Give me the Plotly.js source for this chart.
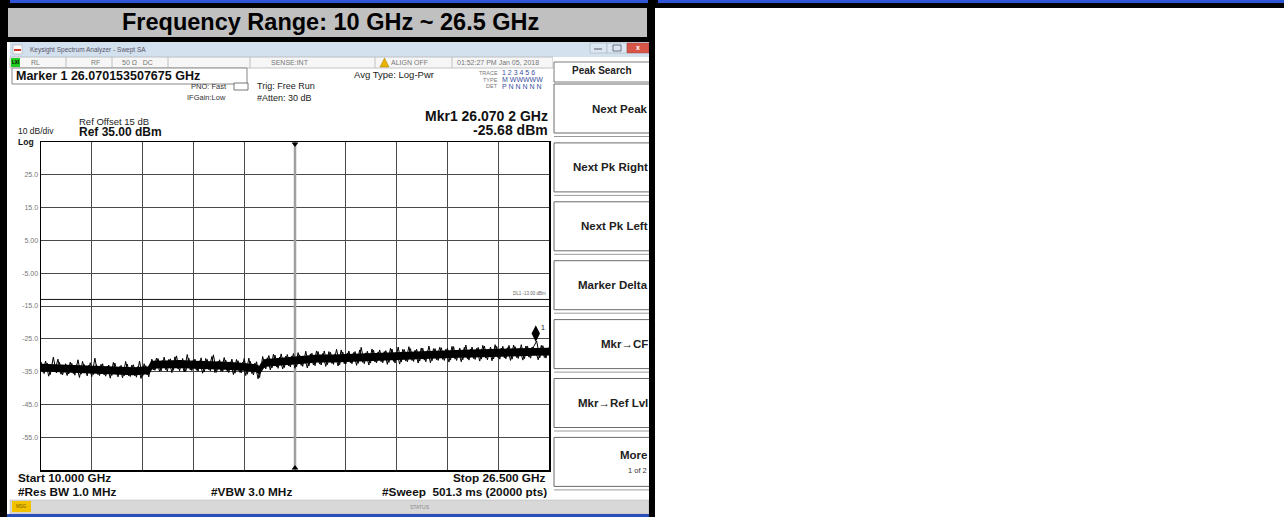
<!DOCTYPE html>
<html><head><meta charset="utf-8">
<script src="https://cdn.plot.ly/plotly-3.0.1.min.js"></script>
<style>html,body{margin:0;padding:0;background:#fff;overflow:hidden}#chart{width:1284px;height:517px}</style>
</head><body><div id="chart"></div>
<script>
// ---------------- data ----------------
const chartTitle = "Frequency Range: 10 GHz ~ 26.5 GHz";
const startGHz = 10.0;
const stopGHz = 26.5;
const refLevelDbm = 35.0;
const bottomLevelDbm = -65.0;
const displayLineDbm = -13.0;
const markerFreqGHz = 26.0702;
const markerLevelDbm = -25.68;

const yTickVals = [25, 15, 5, -5, -15, -25, -35, -45, -55];
const yTickText = ["25.0", "15.0", "5.00", "-5.00", "-15.0", "-25.0", "-35.0", "-45.0", "-55.0"];

const sweepFreqGHz = [
10.0,10.1,10.2,10.3,10.4,10.5,10.6,10.7,10.8,10.9,
11.0,11.1,11.2,11.3,11.4,11.5,11.6,11.7,11.8,11.9,
12.0,12.1,12.2,12.3,12.4,12.5,12.6,12.7,12.8,12.9,
13.0,13.1,13.2,13.3,13.4,13.5,13.6,13.7,13.8,13.9,
14.0,14.1,14.2,14.3,14.4,14.5,14.6,14.7,14.8,14.9,
15.0,15.1,15.2,15.3,15.4,15.5,15.6,15.7,15.8,15.9,
16.0,16.1,16.2,16.3,16.4,16.5,16.6,16.7,16.8,16.9,
17.0,17.1,17.2,17.3,17.4,17.5,17.6,17.7,17.8,17.9,
18.0,18.1,18.2,18.3,18.4,18.5,18.6,18.7,18.8,18.9,
19.0,19.1,19.2,19.3,19.4,19.5,19.6,19.7,19.8,19.9,
20.0,20.1,20.2,20.3,20.4,20.5,20.6,20.7,20.8,20.9,
21.0,21.1,21.2,21.3,21.4,21.5,21.6,21.7,21.8,21.9,
22.0,22.1,22.2,22.3,22.4,22.5,22.6,22.7,22.8,22.9,
23.0,23.1,23.2,23.3,23.4,23.5,23.6,23.7,23.8,23.9,
24.0,24.1,24.2,24.3,24.4,24.5,24.6,24.7,24.8,24.9,
25.0,25.1,25.2,25.3,25.4,25.5,25.6,25.7,25.8,25.9,
26.0,26.1,26.2,26.3,26.4,26.5];
const sweepLevelDbm = [
-32.0,-35.6,-32.4,-35.9,-30.6,-35.4,-32.2,-36.0,-32.6,-35.7,
-32.5,-36.1,-31.4,-35.8,-32.8,-36.3,-32.3,-35.9,-32.9,-36.2,
-32.6,-36.4,-33.0,-36.2,-32.4,-36.6,-33.1,-36.3,-32.7,-36.5,
-32.9,-36.7,-31.8,-36.4,-33.2,-36.6,-31.2,-34.6,-31.0,-34.8,
-30.6,-34.9,-31.1,-34.6,-30.2,-34.8,-31.0,-35.0,-30.9,-34.7,
-31.2,-34.9,-30.8,-35.1,-31.3,-34.8,-29.9,-35.2,-31.4,-35.0,
-31.5,-35.3,-31.2,-35.5,-31.7,-35.4,-31.0,-35.8,-31.9,-36.0,
-32.0,-36.8,-30.4,-34.2,-30.1,-33.9,-30.0,-34.0,-29.6,-33.8,
-29.8,-33.6,-29.5,-33.5,-29.9,-33.4,-28.8,-33.3,-29.4,-33.2,
-28.9,-33.0,-28.7,-32.9,-29.1,-32.8,-28.2,-32.9,-29.0,-32.7,
-28.7,-32.6,-28.9,-32.5,-27.6,-32.6,-28.8,-32.4,-28.5,-32.3,
-28.4,-32.3,-28.6,-32.2,-28.1,-32.4,-27.5,-32.1,-28.3,-32.0,
-28.0,-31.9,-28.2,-31.8,-27.9,-32.0,-27.2,-31.7,-28.0,-31.6,
-27.7,-31.6,-27.9,-31.5,-27.4,-31.6,-27.8,-31.4,-26.9,-31.5,
-27.5,-31.3,-27.6,-31.2,-27.2,-31.4,-27.5,-31.1,-27.3,-31.2,
-27.3,-31.1,-27.0,-31.2,-27.4,-31.0,-26.8,-31.1,-27.2,-30.9,
-27.4,-25.7,-30.8,-27.1,-30.9,-27.6];

const sweepFreqGHzB = [
10.05,10.15,10.25,10.35,10.45,10.55,10.65,10.75,10.85,10.95,
11.05,11.15,11.25,11.35,11.45,11.55,11.65,11.75,11.85,11.95,
12.05,12.15,12.25,12.35,12.45,12.55,12.65,12.75,12.85,12.95,
13.05,13.15,13.25,13.35,13.45,13.55,13.65,13.75,13.85,13.95,
14.05,14.15,14.25,14.35,14.45,14.55,14.65,14.75,14.85,14.95,
15.05,15.15,15.25,15.35,15.45,15.55,15.65,15.75,15.85,15.95,
16.05,16.15,16.25,16.35,16.45,16.55,16.65,16.75,16.85,16.95,
17.05,17.15,17.25,17.35,17.45,17.55,17.65,17.75,17.85,17.95,
18.05,18.15,18.25,18.35,18.45,18.55,18.65,18.75,18.85,18.95,
19.05,19.15,19.25,19.35,19.45,19.55,19.65,19.75,19.85,19.95,
20.05,20.15,20.25,20.35,20.45,20.55,20.65,20.75,20.85,20.95,
21.05,21.15,21.25,21.35,21.45,21.55,21.65,21.75,21.85,21.95,
22.05,22.15,22.25,22.35,22.45,22.55,22.65,22.75,22.85,22.95,
23.05,23.15,23.25,23.35,23.45,23.55,23.65,23.75,23.85,23.95,
24.05,24.15,24.25,24.35,24.45,24.55,24.65,24.75,24.85,24.95,
25.05,25.15,25.25,25.35,25.45,25.55,25.65,25.75,25.85,25.95,
26.05,26.15,26.25,26.35,26.45];
const sweepLevelDbmB = [
-35.2,-31.8,-36.4,-33.0,-35.0,-31.2,-35.8,-33.4,-36.2,-32.1,
-35.6,-32.9,-36.8,-31.9,-35.4,-33.1,-36.5,-30.9,-35.9,-32.8,
-36.0,-33.3,-37.0,-32.2,-35.8,-33.5,-36.9,-31.9,-36.3,-33.0,
-36.3,-33.4,-37.1,-32.6,-36.0,-33.2,-34.5,-30.9,-34.9,-31.6,
-34.4,-31.3,-35.3,-30.5,-34.2,-31.6,-35.1,-29.8,-34.5,-31.4,
-34.6,-31.7,-35.5,-31.0,-34.4,-30.4,-35.3,-31.8,-34.9,-30.7,
-35.0,-32.0,-35.9,-31.3,-35.2,-32.2,-36.2,-30.9,-35.6,-32.4,
-37.2,-32.6,-33.9,-30.8,-34.5,-29.7,-33.6,-30.6,-34.2,-30.3,
-33.3,-30.2,-34.0,-29.2,-33.1,-30.4,-33.9,-29.6,-33.0,-28.7,
-32.7,-29.5,-33.4,-28.9,-32.5,-29.6,-33.3,-28.4,-32.6,-29.3,
-32.3,-29.2,-33.1,-28.4,-32.2,-29.3,-33.0,-28.1,-32.1,-29.0,
-32.0,-28.9,-32.8,-27.9,-31.9,-29.0,-32.7,-28.2,-31.8,-27.4,
-31.6,-28.5,-32.4,-27.8,-31.5,-28.6,-32.3,-28.0,-31.4,-27.6,
-31.3,-28.2,-32.1,-27.3,-31.2,-28.4,-32.0,-27.6,-31.1,-28.1,
-31.0,-27.9,-31.8,-27.0,-30.9,-28.1,-31.7,-26.8,-30.8,-27.8,
-30.8,-27.7,-31.6,-26.9,-30.7,-27.9,-31.5,-27.2,-30.6,-27.5,
-28.3,-31.4,-27.0,-30.7,-28.2];

// dense core of the noise band
const bandFreqGHz = [10.0,10.5,11.0,11.5,12.0,12.5,13.0,13.5,13.6,14.0,14.5,15.0,15.5,16.0,16.5,17.0,17.1,17.25,17.5,18.0,18.5,19.0,19.5,20.0,20.5,21.0,21.5,22.0,22.5,23.0,23.5,24.0,24.5,25.0,25.5,26.0,26.5];
const bandHighDbm = [-32.9,-33.1,-33.3,-33.4,-33.6,-33.9,-34.0,-33.7,-32.0,-31.9,-31.8,-32.0,-32.1,-32.3,-32.6,-33.1,-33.6,-31.5,-31.3,-30.9,-30.6,-30.1,-30.1,-29.9,-29.7,-29.6,-29.4,-29.1,-28.9,-28.8,-28.7,-28.6,-28.4,-28.3,-28.2,-28.1,-28.0];
const bandLowDbm  = [-34.7,-34.9,-35.1,-35.2,-35.4,-35.7,-35.8,-35.5,-33.8,-33.7,-33.6,-33.8,-33.9,-34.1,-34.4,-34.9,-35.4,-33.3,-33.1,-32.7,-32.4,-31.9,-31.9,-31.7,-31.5,-31.4,-31.2,-30.9,-30.7,-30.6,-30.5,-30.4,-30.2,-30.1,-30.0,-29.9,-29.8];

const softkeyLabels = ["Next Peak", "Next Pk Right", "Next Pk Left", "Marker Delta", "Mkr\u2192CF", "Mkr\u2192Ref Lvl", "More"];

// ---------------- geometry helpers ----------------
const L = 41, T = 142, W = 508, H = 328;
const X = px => (px - L) / W;
const Y = py => (T + H - py) / H;
const F = "Liberation Sans, Arial, sans-serif";
const shapes = [];
const ann = [];
function rect(x0, y0, x1, y1, fill, line, lw, layer) {
  shapes.push({type: 'rect', xref: 'paper', yref: 'paper', x0: X(x0), x1: X(x1), y0: Y(y1), y1: Y(y0),
    fillcolor: fill, line: {color: line || fill, width: lw || 0}, layer: layer || 'below'});
}
function hline(x0, x1, y, color, w, layer) {
  shapes.push({type: 'line', xref: 'paper', yref: 'paper', x0: X(x0), x1: X(x1), y0: Y(y), y1: Y(y),
    line: {color: color, width: w || 1}, layer: layer || 'below'});
}
function vline(x, y0, y1, color, w, layer) {
  shapes.push({type: 'line', xref: 'paper', yref: 'paper', x0: X(x), x1: X(x), y0: Y(y0), y1: Y(y1),
    line: {color: color, width: w || 1}, layer: layer || 'below'});
}
function txt(x, y, text, size, color, anchor, family) {
  ann.push({xref: 'paper', yref: 'paper', x: X(x), y: Y(y), text: text, showarrow: false,
    xanchor: anchor || 'left', yanchor: 'middle', borderpad: 0,
    font: {family: family || F, size: size, color: color || '#111'}});
}

// ---------------- frame ----------------
rect(0, 0, 1284, 8, '#000000');
rect(0, 0, 655, 517, '#000000');
rect(10, 0, 648, 3, '#2f56d6');
rect(658, 0, 1284, 3, '#2f56d6');
rect(8, 8, 647, 37, '#c0c0c0');
txt(330.5, 22, '<b>' + chartTitle + '</b>', 23.5, '#000', 'center');

// screenshot
rect(7, 42, 649, 516, '#ffffff');
rect(10, 42, 649, 57, '#d3e0ee');
rect(13, 45, 22, 54, '#ffffff', '#999', 0.5);
rect(14, 49, 21, 51, '#d23a2a');
txt(29, 49.5, 'Keysight Spectrum Analyzer - Swept SA', 6.5, '#556');
rect(590, 43, 607, 53, '#dbe6f2', '#9aa', 0.5);
rect(607, 43, 627, 53, '#dbe6f2', '#9aa', 0.5);
rect(627, 43, 649, 53, '#d65547', '#944', 0.5);
hline(594, 602, 49, '#556', 1);
rect(613, 45, 621, 51, 'rgba(0,0,0,0)', '#556', 0.8);
txt(638, 48, '<b>x</b>', 7, '#fff', 'center');

// status row
rect(10, 57, 553, 68, '#f6f6f6', '#b5b5b5', 0.8);
[66, 112, 168, 250, 375, 452].forEach(x => vline(x, 57, 68, '#b5b5b5', 0.8));
rect(11, 58, 20, 67, '#22cc22');
txt(15.5, 62.5, '<b>LXI</b>', 4.5, '#000', 'center');
txt(30, 62.5, 'RL', 7, '#777');
txt(90, 62.5, 'RF', 7, '#777');
txt(121, 62.5, '50 \u03A9   DC', 7, '#777');
txt(270, 62.5, 'SENSE:INT', 7, '#777');
shapes.push({type: 'path', xref: 'paper', yref: 'paper', layer: 'below',
  path: 'M ' + X(380) + ' ' + Y(67) + ' L ' + X(389) + ' ' + Y(67) + ' L ' + X(384.5) + ' ' + Y(58) + ' Z',
  fillcolor: '#e8b400', line: {color: '#a07800', width: 0.5}});
txt(390, 62.5, 'ALIGN OFF', 7, '#777');
txt(456, 62.5, '01:52:27 PM Jan 05, 2018', 7, '#777');

// marker readout box
rect(12, 68, 247, 84, '#ffffff', '#888', 1);
txt(15, 76, '<b>Marker 1 26.070153507675 GHz</b>', 12.5, '#111');
txt(190, 86, 'PNO: Fast', 7.5, '#333');
rect(234, 83, 248, 90, '#ffffff', '#555', 0.8);
txt(186, 97.5, 'IFGain:Low', 7.5, '#333');
txt(256, 86, 'Trig: Free Run', 9, '#222');
txt(256, 98, '#Atten: 30 dB', 9, '#222');
txt(353, 74.5, 'Avg Type: Log-Pwr', 9.5, '#222');
txt(499, 73, 'TRACE', 5.5, '#777', 'right');
txt(501, 73, '1 2 3 4 5 6', 7, '#3b4fa0');
txt(499, 79.5, 'TYPE', 5.5, '#777', 'right');
txt(501, 79.5, 'M WWWWW', 7, '#3b4fa0');
txt(499, 86, 'DET', 5.5, '#777', 'right');
txt(501, 86, 'P N N N N N', 7, '#3b4fa0');

txt(78, 122, 'Ref Offset 15 dB', 9.5, '#222');
txt(17, 131, '10 dB/div', 8.5, '#222');
txt(78, 132, '<b>Ref 35.00 dBm</b>', 12, '#111');
txt(17, 142.5, '<b>Log</b>', 8.5, '#111');
txt(549, 115.5, '<b>Mkr1 26.070 2 GHz</b>', 14, '#111', 'right');
txt(549, 130.5, '<b>-25.68 dBm</b>', 14, '#111', 'right');

txt(17, 478, '<b>Start 10.000 GHz</b>', 11.8, '#111');
txt(17, 492, '<b>#Res BW 1.0 MHz</b>', 11.8, '#111');
txt(210, 492, '<b>#VBW 3.0 MHz</b>', 11.8, '#111');
txt(547, 478, '<b>Stop 26.500 GHz</b>', 11.8, '#111', 'right');
txt(548, 492, '<b>#Sweep  501.3 ms (20000 pts)</b>', 11.8, '#111', 'right');

// DL1 label
txt(547, 293, 'DL1 -13.00 dBm', 4.5, '#666', 'right');
txt(540, 327, '1', 7, '#111', 'left');

// softkey panel
rect(553, 57, 649, 500, '#ffffff');
rect(554, 62, 650, 82, '#ffffff', '#7a7a7a', 1);
txt(602, 70.5, '<b>Peak Search</b>', 10, '#222', 'center');
softkeyLabels.forEach((lab, k) => {
  const top = 84 + k * 58.9;
  rect(554, top, 651, top + 49, '#ffffff', '#6a6a6a', 1);
  hline(554, 651, top + 52.5, '#9a9a9a', 1);
  if (k === softkeyLabels.length - 1) {
    txt(648, top + 18, '<b>' + lab + '</b>', 11.5, '#222', 'right');
    txt(648, top + 33, '1 of 2', 7.5, '#333', 'right');
  } else {
    txt(649, top + 24.5, '<b>' + lab + '</b>', 11.5, '#222', 'right');
  }
});

// status bar
rect(10, 500, 649, 514, '#d8d8d8', '#b0b0b0', 0.5);
rect(12, 501, 31, 512, '#f2c200');
txt(21.5, 506.5, 'MSG', 4.5, '#7a5a00', 'center');
txt(420, 507, 'STATUS', 5, '#888', 'center');
rect(7, 514, 649, 517, '#2a4fb8');
rect(649, 42, 655, 517, '#000000');

// ---------------- traces ----------------
const centerGHz = (startGHz + stopGHz) / 2;
const dbPerPx = (refLevelDbm - bottomLevelDbm) / H;
const traces = [
  {x: [centerGHz, centerGHz], y: [bottomLevelDbm, refLevelDbm], mode: 'lines',
   line: {color: '#a0a0a0', width: 2.5}, hoverinfo: 'skip'},
  {x: [startGHz, stopGHz], y: [displayLineDbm, displayLineDbm], mode: 'lines',
   line: {color: '#111', width: 1}, hoverinfo: 'skip'},
  {x: bandFreqGHz, y: bandHighDbm, mode: 'lines', line: {color: '#000', width: 2}, hoverinfo: 'skip'},
  {x: bandFreqGHz, y: bandLowDbm, mode: 'lines', fill: 'tonexty', fillcolor: '#000',
   line: {color: '#000', width: 2}, hoverinfo: 'skip'},
  {x: sweepFreqGHz, y: sweepLevelDbm, mode: 'lines', line: {color: '#000', width: 1}},
  {x: sweepFreqGHzB, y: sweepLevelDbmB, mode: 'lines', line: {color: '#000', width: 1}},
  {x: [markerFreqGHz], y: [markerLevelDbm + 7.5 * dbPerPx], mode: 'markers',
   marker: {symbol: 'diamond-tall', size: 12, color: '#000'}, cliponaxis: false},
  {x: [centerGHz], y: [refLevelDbm - 2 * dbPerPx], mode: 'markers',
   marker: {symbol: 'triangle-down', size: 6, color: '#000'}, cliponaxis: false},
  {x: [centerGHz], y: [bottomLevelDbm + 2 * dbPerPx], mode: 'markers',
   marker: {symbol: 'triangle-up', size: 6, color: '#000'}, cliponaxis: false}
];

const layout = {
  width: 1284, height: 517, autosize: false,
  margin: {l: L, r: 1284 - L - W, t: T, b: 517 - T - H, pad: 0},
  paper_bgcolor: '#ffffff', plot_bgcolor: '#ffffff',
  showlegend: false,
  xaxis: {range: [startGHz, stopGHz], tick0: startGHz, dtick: (stopGHz - startGHz) / 10,
    showticklabels: false, ticks: '', showgrid: true, gridcolor: '#4a4a4a', gridwidth: 1,
    zeroline: false, showline: true, mirror: true, linecolor: '#000', linewidth: 1.5, fixedrange: true},
  yaxis: {range: [bottomLevelDbm, refLevelDbm], tickmode: 'array', tickvals: yTickVals, ticktext: yTickText,
    tickfont: {family: F, size: 7, color: '#777'}, ticks: '', showgrid: true, gridcolor: '#4a4a4a', gridwidth: 1,
    zeroline: false, showline: true, mirror: true, linecolor: '#000', linewidth: 1.5, fixedrange: true},
  shapes: shapes,
  annotations: ann
};
Plotly.newPlot('chart', traces, layout, {staticPlot: true, displayModeBar: false});
</script>
</body></html>
